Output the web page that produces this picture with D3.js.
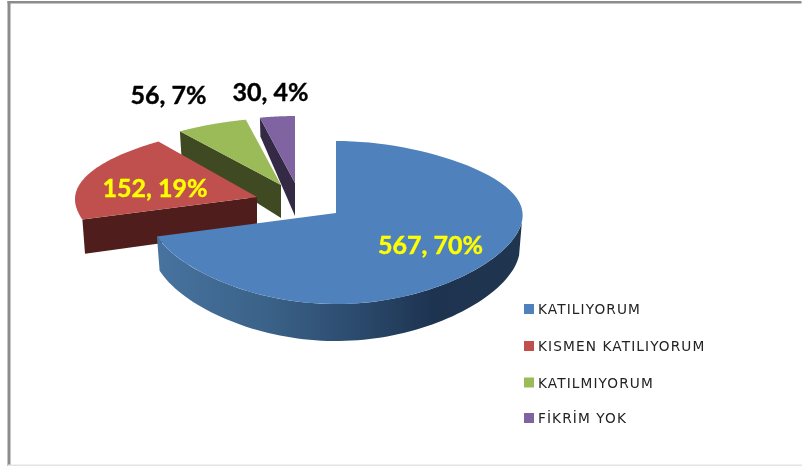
<!DOCTYPE html>
<html><head><meta charset="utf-8"><script src="https://cdn.jsdelivr.net/npm/d3@7"></script>
<style>html,body{margin:0;background:#fff}svg{display:block;filter:blur(0.35px)}</style></head>
<body><svg id="c" width="802" height="466"></svg>
<script>
const categories=["KATILIYORUM","KISMEN KATILIYORUM","KATILMIYORUM","FİKRİM YOK"];
const counts=[567,152,56,30];
const percents=[70,19,7,4];
const faceColors=["#4f81bd","#c0504d","#9bbb59","#8064a2"];
const wallColors=["#2f4f73","#4f1e1c","#3f4a22","#352a45"];
const labelColors=["#ffff00","#ffff00","#000000","#000000"];
const explode=[[0,0],[-79,-16],[-55,-28],[-41,-30]];
const flatten=[1,0.96,0.93,0.93];
const narrow=[1,0.975,1,1];
const labelPos=[[430.5,246],[155,189],[168.5,96],[270.5,93]];

const svg=d3.select("#c");
const W=802,H=466,cx=336,cy=213,R=187,RY=80.4,P=0.1166;
const frame="#8c8c8c";
svg.append("rect").attr("x",7.5).attr("y",1).attr("width",3).attr("height",H-1).attr("fill",frame);
svg.append("rect").attr("x",7.5).attr("y",1).attr("width",W-8).attr("height",2.5).attr("fill",frame);
svg.append("rect").attr("x",8).attr("y",H-1.5).attr("width",W-8).attr("height",1.5).attr("fill","#e4e4e4");

const arcs=d3.pie().sort(null).value(d=>d)(counts);
const project=(X,Y,off,down,fl,nw)=>{
  const s=1/(1-Y*P);
  const d=Y-0.12;
  const sx=d<0?1-0.16*d*d:1-0.06*d*d;
  const depth=down?(Y<0?33-15*Y*Y:33+4*Y):0;
  return [cx+off[0]+X*R*sx*nw*(down?0.985:1), cy+off[1]+Y*RY*s*fl+depth];
};
const rim=(a,off,down,fl,nw)=>project(Math.sin(a),-Math.cos(a),off,down,fl,nw);
const hub=(off,down)=>project(0,0,off,down,1,1);
const range=(a0,a1,n=80)=>d3.range(n+1).map(i=>a0+(a1-a0)*i/n);
const line=d3.line().x(d=>d[0]).y(d=>d[1]);

const defs=svg.append("defs");
const grad=defs.append("linearGradient").attr("id","blueWall").attr("gradientUnits","userSpaceOnUse")
  .attr("x1",157).attr("x2",523).attr("y1",0).attr("y2",0);
[[0,"#47739f"],[0.3,"#3b6288"],[0.52,"#2d4d70"],[0.76,"#1d3350"],[1,"#20364f"]]
  .forEach(([o,c])=>grad.append("stop").attr("offset",o).attr("stop-color",c));

// back-to-front: purple, green, red, blue
[3,2,1,0].forEach(i=>{
  const a=arcs[i],off=explode[i],fl=flatten[i],nw=narrow[i],g=svg.append("g");
  if(i===0){
    const front=range(1.68,a.endAngle);
    const pts=front.map(t=>rim(t,off,false,fl,nw)).concat(front.slice().reverse().map(t=>rim(t,off,true,fl,nw)));
    g.append("path").attr("d",line(pts)+"Z").attr("fill","url(#blueWall)");
  }else{
    const pts=[rim(a.startAngle,off,false,fl,nw),hub(off,false),hub(off,true),rim(a.startAngle,off,true,fl,nw)];
    g.append("path").attr("d",line(pts)+"Z").attr("fill",wallColors[i]);
  }
  const face=[hub(off,false)].concat(range(a.startAngle,a.endAngle).map(t=>rim(t,off,false,fl,nw)));
  g.append("path").attr("d",line(face)+"Z").attr("fill",faceColors[i]);
});

categories.forEach((c,i)=>{
  svg.append("text").attr("x",labelPos[i][0]).attr("y",labelPos[i][1]+8)
    .attr("text-anchor","middle").attr("font-family","Lato").attr("font-weight",700)
    .attr("font-size",25).attr("fill",labelColors[i])
    .attr("stroke",labelColors[i]).attr("stroke-width",0.4)
    .text(`${counts[i]}, ${percents[i]}%`);
});

const legendY=[309,346,382.5,418];
categories.forEach((c,i)=>{
  svg.append("rect").attr("x",524).attr("y",legendY[i]-5).attr("width",10).attr("height",10).attr("fill",faceColors[i]);
  svg.append("text").attr("x",538).attr("y",legendY[i]+5).attr("font-family","DejaVu Sans").attr("font-size",13.7)
    .attr("letter-spacing",1.1).attr("fill","#222").text(c);
});
</script></body></html>
